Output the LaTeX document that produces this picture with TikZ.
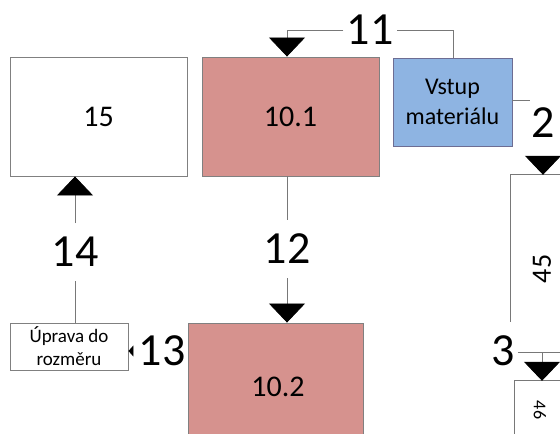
\documentclass[tikz,border=0pt]{standalone}
\usepackage{fontspec}
\setmainfont{Carlito}
\usetikzlibrary{arrows.meta}
\definecolor{rosebox}{RGB}{214,146,142}
\definecolor{bluebox}{RGB}{142,180,226}
\definecolor{edgegray}{RGB}{128,128,128}
\definecolor{linkgray}{RGB}{120,120,120}
\tikzset{
  box/.style={draw=edgegray, line width=0.9pt, inner sep=0pt, align=center},
  boxtext/.style={font=\fontsize{30}{34}\selectfont},
  bignum/.style={font=\fontsize{46}{50}\selectfont, inner xsep=3pt, inner ysep=14pt},
  link/.style={draw=linkgray, line width=0.8pt},
  bigtip/.style={-{Triangle[width=36pt,length=19pt,black]}},
  smalltip/.style={-{Triangle[width=11pt,length=5pt,black]}}
}
\begin{document}
\begin{tikzpicture}[x=1pt,y=-1pt]
\clip (0,0) rectangle (560,434);
\fill[white] (0,0) rectangle (560,434);

% process boxes
\node[box, fill=white, boxtext, minimum width=177, minimum height=119] (b15) at (98.5,116.5) {15};
\node[box, fill=rosebox, boxtext, minimum width=177, minimum height=119] (b101) at (290.5,116.5) {10.1};
\node[box, fill=bluebox, draw=edgegray!85!blue, minimum width=119, minimum height=88,
      font=\fontsize{24}{30}\selectfont] (vstup) at (452.5,102) {Vstup\\materiálu};
\node[box, fill=rosebox, minimum width=175, minimum height=130] (b102) at (275.5,388) {};
\node[boxtext] at (278,387) {10.2};
\node[box, fill=white, minimum width=118, minimum height=47,
      font=\fontsize{19}{23}\selectfont] (uprava) at (69,346.5) {Úprava do\\rozměru};

% boxes running past the right edge
\node[minimum width=80, minimum height=147, inner sep=0pt] (b45) at (551,248.5) {};
\draw[link] (b45.north east) -- (b45.north west) -- (b45.south west);
\node[rotate=90, font=\fontsize{28}{32}\selectfont] at (542,269) {45};
\node[minimum width=80, minimum height=80, inner sep=0pt] (b46) at (555,421) {};
\draw[link] (b46.north east) -- (b46.north west) -- (b46.south west);
\node[rotate=-90, font=\fontsize{18}{22}\selectfont] at (540,410) {46};

% flow labels
\node[bignum] (l11) at (370,30) {11};
\node[bignum] (l2) at (543,123) {2};
\node[bignum] (l12) at (287,249) {12};
\node[bignum] (l13) at (162,351) {13};
\node[bignum] (l14) at (75,252) {14};
\node[bignum] (l3) at (503,351) {3};

% link 11: material input to 10.1
\coordinate (c11r) at (453,30);
\coordinate (c11l) at (287,30);
\draw[link] (vstup.north -| c11r) -- (c11r) -- (l11.east);
\draw[link, bigtip] (l11.west) -- (c11l) -- (b101.north -| c11l);

% link 2: material input to 45
\coordinate (c2) at (530,100);
\coordinate (c2t) at (543,156);
\draw[link] (vstup.east |- c2) -- (c2);
\draw[link, bigtip] (c2t) -- (b45.north west -| c2t);

% link 12: 10.1 to 10.2
\draw[link] (b101.south -| l12) -- (l12.north);
\draw[link, bigtip] (l12.south) -- (b102.north -| l12);

% link 13: 10.2 to resizing
\draw[link, smalltip, shorten <=4pt] (l13.west) -- (uprava.east |- l13);

% link 14: resizing to 15
\draw[link] (uprava.north -| l14) -- (l14.south);
\draw[link, bigtip] (l14.north) -- (b15.south -| l14);

% link 3: to 46
\coordinate (c3) at (542,352);
\draw[link] (l3.east |- c3) -- (562,352);
\draw[link, bigtip] (c3) -- (b46.north west -| c3);
\end{tikzpicture}
\end{document}
